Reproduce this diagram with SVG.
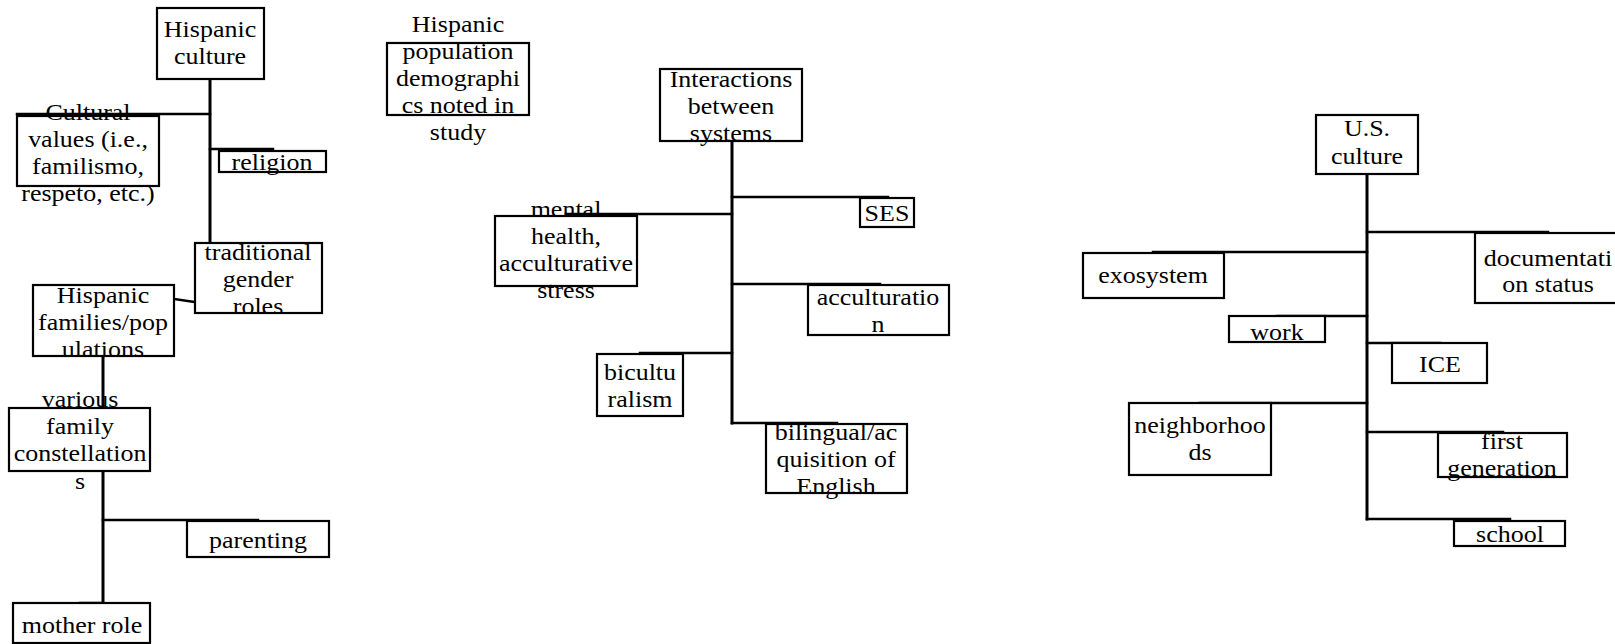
<svg xmlns="http://www.w3.org/2000/svg" width="1615" height="644" viewBox="0 0 1615 644">
<style>
rect.box{fill:#fff;stroke:#000;stroke-width:2.2}
text{font-size:23px;fill:#000;text-anchor:middle}
#connectors line{stroke:#000;stroke-width:2.5;stroke-linecap:square}
#connectors line.trunk{stroke-width:3}
</style>
<rect width="1615" height="644" fill="#fff"/>
<g id="connectors">
<line class="trunk" x1="210" y1="79" x2="210" y2="243"/>
<line x1="17" y1="114" x2="210" y2="114"/>
<line x1="210" y1="149" x2="273" y2="149"/>
<line x1="174" y1="299" x2="195" y2="302"/>
<line class="trunk" x1="103" y1="356" x2="103" y2="408"/>
<line class="trunk" x1="103" y1="471" x2="103" y2="603"/>
<line x1="103" y1="520" x2="258" y2="520"/>
<line x1="80" y1="603" x2="103" y2="603"/>
<line class="trunk" x1="732" y1="141" x2="732" y2="423"/>
<line x1="732" y1="197" x2="888" y2="197"/>
<line x1="566" y1="214" x2="732" y2="214"/>
<line x1="732" y1="284" x2="880" y2="284"/>
<line x1="640" y1="353" x2="732" y2="353"/>
<line x1="732" y1="423" x2="837" y2="423"/>
<line class="trunk" x1="1367" y1="174" x2="1367" y2="519"/>
<line x1="1367" y1="232" x2="1548" y2="232"/>
<line x1="1153" y1="252" x2="1367" y2="252"/>
<line x1="1277" y1="316" x2="1367" y2="316"/>
<line x1="1367" y1="343" x2="1440" y2="343"/>
<line x1="1200" y1="403" x2="1367" y2="403"/>
<line x1="1367" y1="432" x2="1503" y2="432"/>
<line x1="1367" y1="519" x2="1510" y2="519"/>
</g>
<g font-family="Liberation Serif, Tinos, DejaVu Serif, serif">
<g id="hispanic-culture"><rect class="box" x="157" y="8" width="107" height="71"/><text transform="translate(210 0) scale(1.13 1)"><tspan x="0" y="37">Hispanic</tspan><tspan x="0" y="64">culture</tspan></text></g>
<g id="cultural-values"><rect class="box" x="17" y="116" width="142" height="70"/><text transform="translate(88 0) scale(1.13 1)"><tspan x="0" y="120">Cultural</tspan><tspan x="0" y="147">values (i.e.,</tspan><tspan x="0" y="174">familismo,</tspan><tspan x="0" y="201">respeto, etc.)</tspan></text></g>
<g id="religion"><rect class="box" x="219" y="151" width="107" height="21"/><text transform="translate(272 0) scale(1.13 1)"><tspan x="0" y="170">religion</tspan></text></g>
<g id="traditional-gender-roles"><rect class="box" x="195" y="243" width="127" height="70"/><text transform="translate(258 0) scale(1.13 1)"><tspan x="0" y="260">traditional</tspan><tspan x="0" y="287">gender</tspan><tspan x="0" y="314">roles</tspan></text></g>
<g id="hispanic-families"><rect class="box" x="33" y="285" width="141" height="71"/><text transform="translate(103 0) scale(1.13 1)"><tspan x="0" y="303">Hispanic</tspan><tspan x="0" y="330">families/pop</tspan><tspan x="0" y="357">ulations</tspan></text></g>
<g id="family-constellations"><rect class="box" x="9" y="408" width="141" height="63"/><text transform="translate(80 0) scale(1.13 1)"><tspan x="0" y="407">various</tspan><tspan x="0" y="434">family</tspan><tspan x="0" y="461">constellation</tspan><tspan x="0" y="489">s</tspan></text></g>
<g id="parenting"><rect class="box" x="187" y="521" width="142" height="36"/><text transform="translate(258 0) scale(1.13 1)"><tspan x="0" y="548">parenting</tspan></text></g>
<g id="mother-role"><rect class="box" x="13" y="603" width="137" height="40"/><text transform="translate(82 0) scale(1.13 1)"><tspan x="0" y="633">mother role</tspan></text></g>
<g id="population-demographics"><rect class="box" x="387" y="43" width="142" height="72"/><text transform="translate(458 0) scale(1.13 1)"><tspan x="0" y="32">Hispanic</tspan><tspan x="0" y="59">population</tspan><tspan x="0" y="86">demographi</tspan><tspan x="0" y="113">cs noted in</tspan><tspan x="0" y="140">study</tspan></text></g>
<g id="interactions"><rect class="box" x="660" y="69" width="142" height="72"/><text transform="translate(731 0) scale(1.13 1)"><tspan x="0" y="87">Interactions</tspan><tspan x="0" y="114">between</tspan><tspan x="0" y="141">systems</tspan></text></g>
<g id="ses"><rect class="box" x="860" y="198" width="54" height="29"/><text transform="translate(887 0) scale(1.13 1)"><tspan x="0" y="221">SES</tspan></text></g>
<g id="mental-health"><rect class="box" x="495" y="216" width="142" height="70"/><text transform="translate(566 0) scale(1.13 1)"><tspan x="0" y="217">mental</tspan><tspan x="0" y="244">health,</tspan><tspan x="0" y="271">acculturative</tspan><tspan x="0" y="298">stress</tspan></text></g>
<g id="acculturation"><rect class="box" x="808" y="285" width="141" height="50"/><text transform="translate(878 0) scale(1.13 1)"><tspan x="0" y="305">acculturatio</tspan><tspan x="0" y="332">n</tspan></text></g>
<g id="biculturalism"><rect class="box" x="597" y="354" width="86" height="62"/><text transform="translate(640 0) scale(1.13 1)"><tspan x="0" y="380">bicultu</tspan><tspan x="0" y="407">ralism</tspan></text></g>
<g id="bilingual"><rect class="box" x="766" y="424" width="141" height="69"/><text transform="translate(836 0) scale(1.13 1)"><tspan x="0" y="440">bilingual/ac</tspan><tspan x="0" y="467">quisition of</tspan><tspan x="0" y="494">English</tspan></text></g>
<g id="us-culture"><rect class="box" x="1316" y="115" width="102" height="59"/><text transform="translate(1367 0) scale(1.13 1)"><tspan x="0" y="136">U.S.</tspan><tspan x="0" y="164">culture</tspan></text></g>
<g id="documentation-status"><rect class="box" x="1475" y="233" width="148" height="70"/><text transform="translate(1548 0) scale(1.13 1)"><tspan x="0" y="266">documentati</tspan><tspan x="0" y="292">on status</tspan></text></g>
<g id="exosystem"><rect class="box" x="1083" y="253" width="141" height="45"/><text transform="translate(1153 0) scale(1.13 1)"><tspan x="0" y="283">exosystem</tspan></text></g>
<g id="work"><rect class="box" x="1229" y="316" width="96" height="26"/><text transform="translate(1277 0) scale(1.13 1)"><tspan x="0" y="340">work</tspan></text></g>
<g id="ice"><rect class="box" x="1392" y="343" width="95" height="40"/><text transform="translate(1440 0) scale(1.13 1)"><tspan x="0" y="372">ICE</tspan></text></g>
<g id="neighborhoods"><rect class="box" x="1129" y="403" width="142" height="72"/><text transform="translate(1200 0) scale(1.13 1)"><tspan x="0" y="433">neighborhoo</tspan><tspan x="0" y="460">ds</tspan></text></g>
<g id="first-generation"><rect class="box" x="1438" y="433" width="129" height="44"/><text transform="translate(1502 0) scale(1.13 1)"><tspan x="0" y="449">first</tspan><tspan x="0" y="476">generation</tspan></text></g>
<g id="school"><rect class="box" x="1454" y="521" width="111" height="25"/><text transform="translate(1510 0) scale(1.13 1)"><tspan x="0" y="542">school</tspan></text></g>
</g>
</svg>
